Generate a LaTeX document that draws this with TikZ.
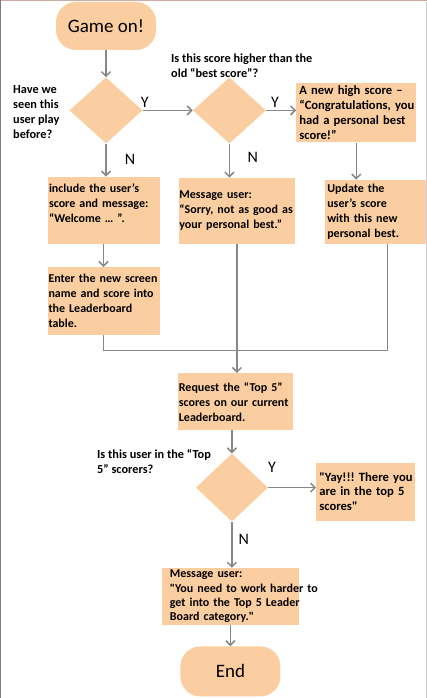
\documentclass[tikz,border=0pt]{standalone}
\usepackage{fontspec}
\setmainfont{Carlito}[Ligatures=TeXOff]
\frenchspacing
\usetikzlibrary{shapes.geometric, shapes.misc, arrows.meta, positioning, calc}
\definecolor{peach}{RGB}{251,206,162}
\definecolor{arrowgray}{RGB}{135,135,135}
\definecolor{framegray}{RGB}{120,125,140}
\definecolor{framepink}{RGB}{205,172,162}
\definecolor{frameright}{RGB}{205,205,210}
\tikzset{
  termnode/.style={rectangle,rounded corners=20pt,fill=peach,minimum width=100pt,minimum height=48pt,font=\fontsize{19}{22}\selectfont},
  decnode/.style={diamond,fill=peach,inner sep=0pt,minimum width=73pt,minimum height=66pt},
  boxnode/.style={rectangle,fill=peach,align=left,inner ysep=2pt,font=\bfseries\fontsize{12}{15}\selectfont},
  qtext/.style={align=left,inner sep=0pt,anchor=north west,font=\bfseries\fontsize{12.3}{15}\selectfont},
  yn/.style={inner sep=0pt,text=black,font=\fontsize{16}{19}\selectfont},
  arr/.style={-{Straight Barb[length=4.5pt,width=9pt]},line width=1.5pt,color=arrowgray},
  conn/.style={line width=1pt,color=arrowgray}
}

\begin{document}
\begin{tikzpicture}[node distance=25pt and 40pt]
  \useasboundingbox (0,0) rectangle (427pt,-698pt);
  %% screenshot frame
  \draw[framepink,line width=1pt] (0,-0.5pt) -- (427pt,-0.5pt);
  \draw[framegray,line width=1.2pt] (0.6pt,0) -- (0.6pt,-698pt);
  \draw[frameright,line width=1pt] (426pt,-2pt) -- (426pt,-698pt);

  %% Top: start and first two questions
  \node[termnode] (start) at (106pt,-26pt) {Game on!};
  \node[decnode,below=27pt of start] (seen) {};
  \node[decnode,right=50pt of seen] (higher) {};
  \node[boxnode,right=30pt of higher,yshift=-2.5pt,text width=114pt,inner xsep=3pt,inner ysep=0pt,minimum height=59pt,
        font=\bfseries\fontsize{12.6}{15}\selectfont] (best)
    {\mbox{A new high score –}\\\mbox{“Congratulations, you}\\\mbox{had a personal best}\\score!”};

  %% Question texts
  \node[qtext] (qseen) at (13pt,-85pt) {Have we\\seen this\\user play\\before?};
  \node[qtext] (qhigher) at (171pt,-54pt) {Is this score higher than the\\old “best score”?};

  %% Second row
  \node[boxnode,below=33pt of seen,xshift=-2.5pt,text width=109pt,inner xsep=1.5pt,minimum height=67pt] (welcome)
    {include the user’s\\score and message:\\“Welcome … ”.\\\mbox{}};
  \node[boxnode,below=34pt of higher,xshift=7.5pt,text width=115pt,inner xsep=0.5pt,minimum height=66pt] (sorry)
    {Message user:\\\mbox{“Sorry, not as good as}\\your personal best.”};
  \node[boxnode,below=37pt of best,xshift=19.5pt,text width=97pt,inner xsep=2pt,minimum height=64pt] (upd)
    {Update the\\user’s score\\with this new\\personal best.};
  \node[boxnode,below=23pt of welcome,text width=110pt,inner xsep=1pt,minimum height=68pt] (enter)
    {Enter the new screen\\name and score into\\the Leaderboard\\table.};

  %% Leaderboard check
  \node[boxnode,below=129pt of sorry,xshift=-1.5pt,text width=113pt,inner xsep=1pt,minimum height=57pt] (request)
    {Request the “Top 5”\\scores on our current\\Leaderboard.};
  \node[decnode,below=23pt of request,xshift=-3.5pt,minimum width=72pt,minimum height=68pt] (topfive) {};
  \node[qtext] (qtopfive) at (97pt,-449pt) {Is this user in the “Top\\5” scorers?};
  \node[boxnode,right=48pt of topfive,yshift=-4pt,text width=93pt,inner xsep=3pt,minimum height=58pt,
        font=\bfseries\fontsize{12.6}{14.5}\selectfont] (yay)
    {\mbox{"Yay!!! There you}\\are in the top 5\\scores"};
  \node[boxnode,below=46pt of topfive,xshift=-1.5pt,text width=121pt,inner xsep=8pt,inner ysep=0pt,minimum height=57pt,
        font=\bfseries\fontsize{12}{14.3}\selectfont] (harder)
    {Message user:\\\mbox{"You need to work harder to}\\\mbox{get into the Top 5 Leader}\\Board category."};
  \node[termnode,below=21pt of harder,minimum height=50pt] (end) {End};

  %% Arrows
  \draw[arr] (start.south) -- (start.south |- seen.north);
  \draw[arr] (seen.east) -- (higher.west)
      node[yn,pos=0.04,above=2pt] (y1) {Y};
  \draw[arr] (higher.east) -- (higher.east -| best.west)
      node[yn,pos=0.3,above=2pt] (y2) {Y};
  \draw[arr] (seen.south) -- (seen.south |- welcome.north)
      node[yn,pos=0.47,right=18pt] (n1) {N};
  \draw[arr] (higher.south) -- (higher.south |- sorry.north)
      node[yn,pos=0.41,right=17.5pt] (n2) {N};
  \draw[arr] (best.south) -- (best.south |- upd.north);
  \draw[arr] (welcome.south) -- (welcome.south |- enter.north);

  %% merge into the request box
  \coordinate (join) at ($(sorry.south)+(0,-106pt)$);
  \draw[conn] (enter.south) |- ([xshift=11.5pt]upd.south |- join) -- ([xshift=11.5pt]upd.south);
  \draw[arr] (sorry.south) -- (sorry.south |- request.north);

  \draw[arr] (topfive.north |- request.south) -- (topfive.north);
  \draw[arr] (topfive.east) -- (topfive.east -| yay.west)
      node[yn,pos=0.08,above=14pt] (y3) {Y};
  \draw[arr] (topfive.south) -- (topfive.south |- harder.north)
      node[yn,pos=0.39,right=6pt] (n3) {N};
  \draw[arr] (harder.south) -- (end.north);
\end{tikzpicture}
\end{document}
